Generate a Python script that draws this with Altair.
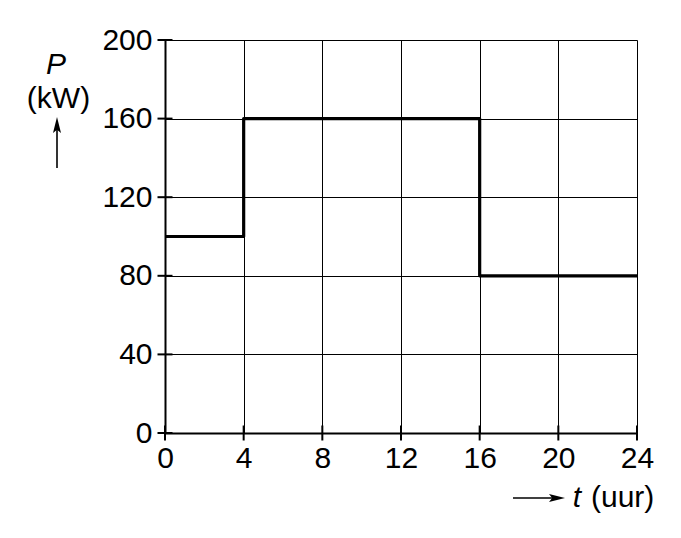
import altair as alt
import pandas as pd

# data
t_vals = [0, 4, 4, 16, 16, 24]
p_vals = [100, 100, 160, 160, 80, 80]
x_ticks = [0, 4, 8, 12, 16, 20, 24]
y_ticks = [0, 40, 80, 120, 160, 200]

FONT = "Liberation Sans"
FS = 30

df = pd.DataFrame({"t": t_vals, "P": p_vals, "order": list(range(len(t_vals)))})
xs = alt.Scale(domain=[0, 24], nice=False, zero=False)
ys = alt.Scale(domain=[0, 200], nice=False, zero=False)

x_axis = alt.Axis(values=x_ticks, title=None, grid=True, gridColor="black", gridWidth=1,
                  gridOpacity=1, domainColor="black", domainWidth=2, ticks=False,
                  labelFontSize=FS, labelFont=FONT, labelColor="black", labelPadding=10,
                  labelOverlap=False, labelFlush=False)
y_axis = alt.Axis(values=y_ticks, title=None, grid=True, gridColor="black", gridWidth=1,
                  gridOpacity=1, domainColor="black", domainWidth=2, ticks=False,
                  labelFontSize=FS, labelFont=FONT, labelColor="black", labelPadding=13,
                  labelOverlap=False, labelFlush=False)

line = alt.Chart(df).mark_line(color="black", strokeWidth=3.2, strokeJoin="round",
                               strokeCap="butt", clip=False).encode(
    x=alt.X("t:Q", scale=xs, axis=x_axis),
    y=alt.Y("P:Q", scale=ys, axis=y_axis),
    order="order:Q",
)

ydf = pd.DataFrame({"v": y_ticks, "z": [0] * len(y_ticks)})
xdf = pd.DataFrame({"v": x_ticks, "z": [0] * len(x_ticks)})

yt = alt.Chart(ydf).mark_tick(orient="horizontal", size=15, thickness=2, color="black",
                              opacity=1, clip=False).encode(
    x=alt.X("z:Q", scale=xs), y=alt.Y("v:Q", scale=ys))
xt = alt.Chart(xdf).mark_tick(orient="vertical", size=15, thickness=2, color="black",
                              opacity=1, clip=False).encode(
    x=alt.X("v:Q", scale=xs), y=alt.Y("z:Q", scale=ys))

one = pd.DataFrame({"a": [0]})

p_txt = alt.Chart(one).mark_text(text="P", font=FONT, fontSize=FS, fontStyle="italic",
                                 align="center", baseline="alphabetic", color="black").encode(
    x=alt.value(-109), y=alt.value(34))
kw_txt = alt.Chart(one).mark_text(text="(kW)", font=FONT, fontSize=FS, align="center",
                                  baseline="alphabetic", color="black").encode(
    x=alt.value(-106.5), y=alt.value(68))
up_rule = alt.Chart(one).mark_rule(color="black", strokeWidth=1.6).encode(
    x=alt.value(-108), y=alt.value(128), y2=alt.value(86))
up_head = alt.Chart(one).mark_point(shape="M0,-1L0.5,1L0,0.6L-0.5,1Z", filled=True,
                                    size=256, color="black", opacity=1).encode(
    x=alt.value(-108), y=alt.value(85))

r_rule = alt.Chart(one).mark_rule(color="black", strokeWidth=1.6).encode(
    x=alt.value(348), x2=alt.value(392), y=alt.value(458))
r_head = alt.Chart(one).mark_point(shape="M1,0L-1,0.5L-0.6,0L-1,-0.5Z", filled=True,
                                   size=256, color="black", opacity=1).encode(
    x=alt.value(392), y=alt.value(458))
t_txt = alt.Chart(one).mark_text(text="t", font=FONT, fontSize=FS, fontStyle="italic",
                                 align="center", baseline="alphabetic", color="black").encode(
    x=alt.value(412), y=alt.value(467))
uur_txt = alt.Chart(one).mark_text(text="(uur)", font=FONT, fontSize=FS, align="left",
                                   baseline="alphabetic", color="black").encode(
    x=alt.value(426), y=alt.value(467))

chart = alt.layer(line, yt, xt, p_txt, kw_txt, up_rule, up_head, r_rule, r_head, t_txt, uur_txt).properties(
    width=472, height=393,
    autosize=alt.AutoSizeParams(type="none"),
    padding={"left": 157, "top": 32, "right": 30, "bottom": 80},
).configure_view(stroke=None).configure(background="white")

chart.save("out.html", embed_options={"renderer": "svg", "actions": False})
